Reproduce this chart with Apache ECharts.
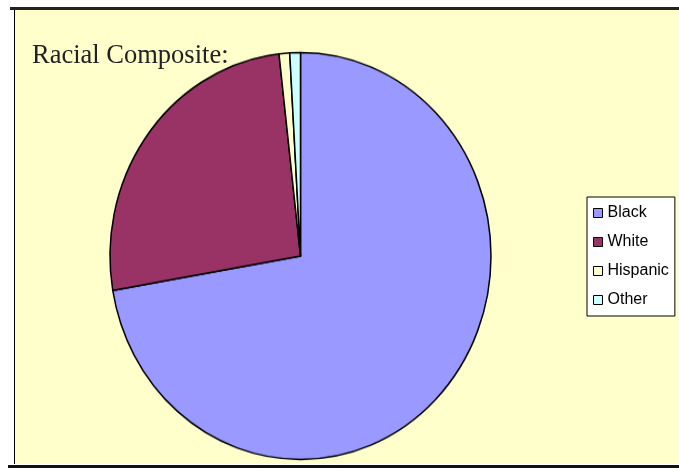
<!DOCTYPE html>
<html>
<head>
<meta charset="utf-8">
<script src="https://cdn.jsdelivr.net/npm/echarts@6/dist/echarts.min.js"></script>
<style>
  html, body { margin: 0; padding: 0; background: #ffffff; }
  #wrap { position: relative; width: 679px; height: 472px; overflow: hidden; }
  #frame { position: absolute; left: 14px; top: 9px; width: 665px; height: 455px;
           background: #FFFFCC; border-left: 1px solid #000; }
  #topline { position: absolute; left: 10px; top: 7px; width: 669px; height: 3px; background: #222; }
  #botline { position: absolute; left: 8px; top: 465px; width: 671px; height: 3px; background: #111; }
  #pie { position: absolute; left: 0; top: 0; width: 679px; height: 472px;
         transform-origin: 0 256px; transform: scale(1, 1.068); }
  #fg { position: absolute; left: 0; top: 0; width: 679px; height: 472px; }
</style>
</head>
<body>
<div id="wrap">
  <div id="frame"></div>
  <div id="topline"></div>
  <div id="botline"></div>
  <div id="pie"></div>
  <div id="fg"></div>
</div>
<script>
const categories = ["Black", "White", "Hispanic", "Other"];
const values = [72.3, 25.9, 0.9, 0.9];
const colors = ["#9999FF", "#993366", "#FFFFCC", "#CCFFFF"];
const titleText = "Racial Composite:";

const pieData = categories.map((c, i) => ({ name: c, value: values[i], itemStyle: { color: colors[i] } }));

const pieChart = echarts.init(document.getElementById('pie'), null, { renderer: 'canvas' });
pieChart.setOption({
  backgroundColor: 'transparent',
  animation: false,
  series: [{
    type: 'pie',
    center: [300.5, 256],
    radius: 190.5,
    startAngle: 90,
    clockwise: true,
    label: { show: false },
    labelLine: { show: false },
    emphasis: { disabled: true },
    itemStyle: { borderColor: '#000', borderWidth: 1.5 },
    data: pieData
  }]
});

const fg = echarts.init(document.getElementById('fg'), null, { renderer: 'canvas' });
fg.setOption({
  backgroundColor: 'transparent',
  animation: false,
  title: {
    text: titleText,
    left: 27,
    top: 38,
    textStyle: { fontFamily: 'Liberation Serif, Times New Roman, serif', fontSize: 26.5, fontWeight: 'normal', color: '#222' }
  },
  legend: {
    orient: 'vertical',
    left: 587,
    top: 197,
    data: categories,
    icon: 'rect',
    itemWidth: 9,
    itemHeight: 9,
    itemGap: 13,
    itemTextGap: 7,
    itemStyle: { borderColor: '#000', borderWidth: 1 },
    textStyle: { fontFamily: 'Liberation Sans, Arial, sans-serif', fontSize: 16, color: '#000' },
    backgroundColor: '#ffffff',
    borderColor: '#000',
    borderWidth: 1,
    borderRadius: 0,
    padding: [8, 6, 8, 6]
  },
  series: [{
    type: 'pie',
    center: [-2000, -2000],
    radius: 1,
    silent: true,
    label: { show: false },
    data: pieData
  }]
});
</script>
</body>
</html>
